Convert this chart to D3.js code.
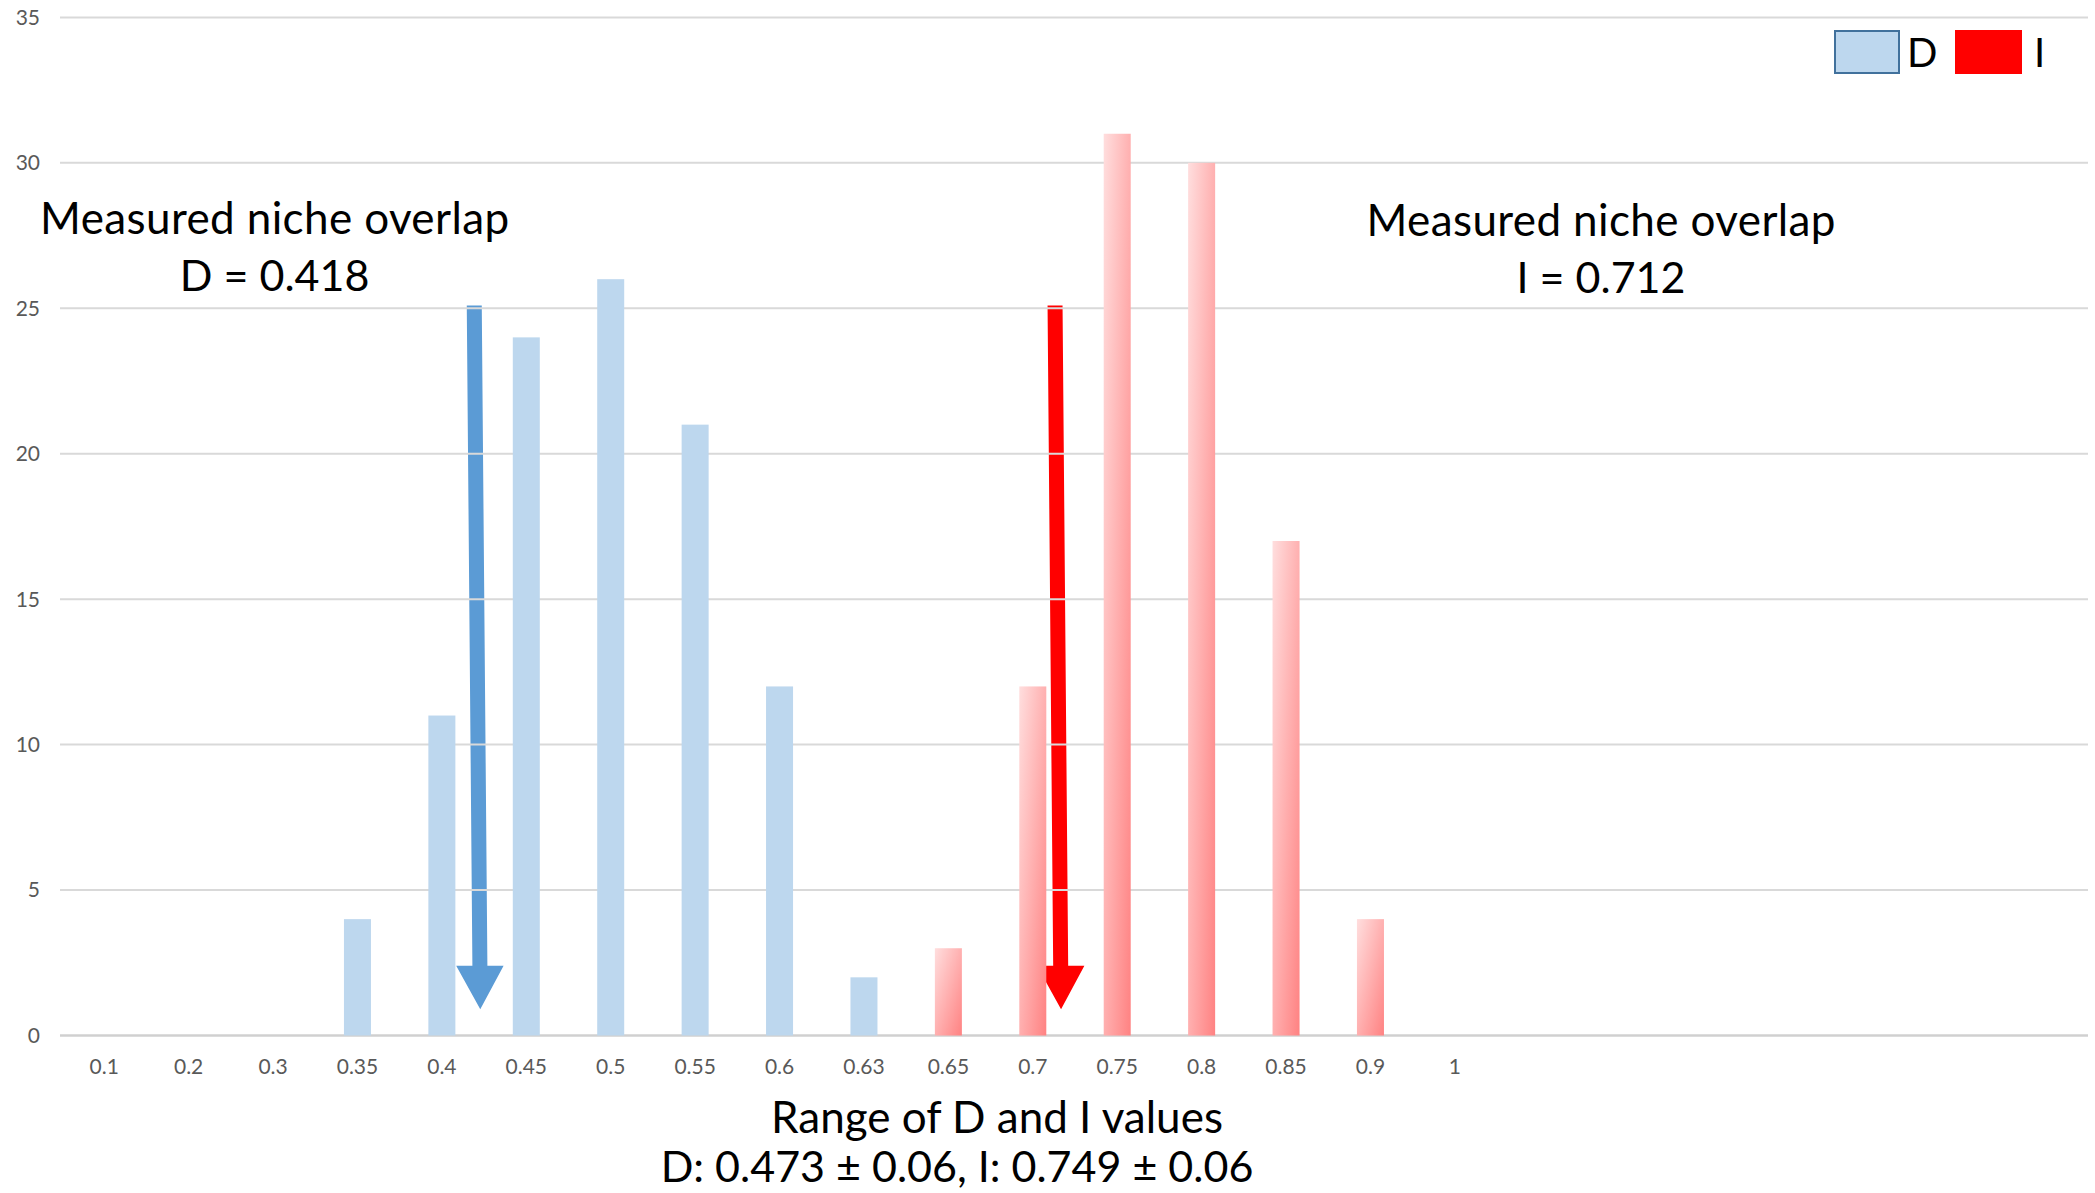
<!DOCTYPE html>
<html><head><meta charset="utf-8">
<script src="https://cdn.jsdelivr.net/npm/d3@7"></script>
<style>html,body{margin:0;padding:0;background:#fff;}svg{display:block;}</style>
</head><body>
<svg id="chart" width="2095" height="1193"></svg>
<script>
// ---- data ----
const categories = ["0.1","0.2","0.3","0.35","0.4","0.45","0.5","0.55","0.6","0.63","0.65","0.7","0.75","0.8","0.85","0.9","1","","","","","","",""];
const categoryKeys = categories.map((c,i)=> c === "" ? "blank"+i : c);
const dValues = [0,0,0,4,11,24,26,21,12,2,0,0,0,0,0,0,0,0,0,0,0,0,0,0];
const iValues = [0,0,0,0,0,0,0,0,0,0,3,12,31,30,17,4,0,0,0,0,0,0,0,0];
const yTicks = [0,5,10,15,20,25,30,35];
const measured = [{name:"D", value:0.418, label:"D = 0.418"},{name:"I", value:0.712, label:"I = 0.712"}];
const arrowTopValue = 25.1, arrowHeadBase = 2.4, arrowTip = 0.9;
const xTitle = "Range of D and I values";
const xSubtitle = "D: 0.473 \u00B1 0.06, I: 0.749 \u00B1 0.06";

(function(){
const svg = d3.select("#chart");
const pLeft = 62, pRight = 2088, pTop = 17.4, pBottom = 1035.5;
const x = d3.scaleBand().domain(categoryKeys).range([pLeft, pRight]).paddingInner(0).paddingOuter(0);
const y = d3.scaleLinear().domain([0,35]).range([pBottom, pTop]);
const font = "Lato, 'Open Sans', sans-serif";

const defs = svg.append("defs");
const g = defs.append("linearGradient").attr("id","redgrad")
  .attr("x1",0).attr("y1",0).attr("x2",1).attr("y2",1);
g.append("stop").attr("offset","0%").attr("stop-color","#ffdede");
g.append("stop").attr("offset","100%").attr("stop-color","#ff8282");

const numCats = categories.filter(c=>c!=="").map(Number);
function xOfValue(v){
  for(let i=0;i<numCats.length-1;i++){
    const a=numCats[i], b=numCats[i+1];
    if(v>=a && v<=b){
      const xa = x(categoryKeys[i])+x.bandwidth()/2, xb = x(categoryKeys[i+1])+x.bandwidth()/2;
      return xa + (v-a)/(b-a)*(xb-xa);
    }
  }
  return 0;
}

// arrows (beneath gridlines and bars)
const arrowColors = {D:"#5b9bd5", I:"#ff0000"};
measured.forEach(m=>{
  const xt = xOfValue(m.value) + 2, slant = 6;
  const yt = y(arrowTopValue), yb = y(arrowHeadBase), yp = y(arrowTip);
  const sw = 7.5, hw = 23.7;
  const xbase = xt + slant*(yb-yt)/(yp-yt);
  const pts = [[xt-sw,yt],[xt+sw,yt],[xbase+sw,yb],[xbase+hw,yb],[xt+slant,yp],[xbase-hw,yb],[xbase-sw,yb]];
  svg.append("polygon").attr("points", pts.map(p=>p.join(",")).join(" "))
    .attr("fill", arrowColors[m.name]);
});

// gridlines
svg.append("g").selectAll("line").data(yTicks.filter(t=>t>0)).join("line")
  .attr("x1",60).attr("x2",pRight).attr("y1",d=>y(d)).attr("y2",d=>y(d))
  .attr("stroke","#d9d9d9").attr("stroke-width",2);
svg.append("line").attr("x1",60).attr("x2",pRight).attr("y1",y(0)).attr("y2",y(0))
  .attr("stroke","#d0d0d0").attr("stroke-width",2.5);

// bars
const bw = x.bandwidth()*0.32;
svg.append("g").selectAll("rect").data(dValues.map((v,i)=>({v,k:categoryKeys[i]})).filter(d=>d.v>0)).join("rect")
  .attr("x",d=>x(d.k)+x.bandwidth()/2-bw/2).attr("width",bw)
  .attr("y",d=>y(d.v)).attr("height",d=>y(0)-y(d.v)).attr("fill","#bdd7ee");
svg.append("g").selectAll("rect").data(iValues.map((v,i)=>({v,k:categoryKeys[i]})).filter(d=>d.v>0)).join("rect")
  .attr("x",d=>x(d.k)+x.bandwidth()/2-bw/2).attr("width",bw)
  .attr("y",d=>y(d.v)).attr("height",d=>y(0)-y(d.v)).attr("fill","url(#redgrad)");

// y tick labels
svg.append("g").selectAll("text").data(yTicks).join("text")
  .attr("x",40).attr("y",d=>y(d)).attr("dy","0.35em").attr("text-anchor","end")
  .attr("font-family",font).attr("font-size",21).attr("fill","#595959").text(d=>d);

// x tick labels
svg.append("g").selectAll("text").data(categories.map((c,i)=>({c,k:categoryKeys[i]})).filter(d=>d.c!=="")).join("text")
  .attr("x",d=>x(d.k)+x.bandwidth()/2).attr("y",1074).attr("text-anchor","middle")
  .attr("font-family",font).attr("font-size",21).attr("fill","#595959").text(d=>d.c);

// annotations
const annPos = [{cx:274.6, y1:234, y2:290.5},{cx:1601, y1:236, y2:292.5}];
measured.forEach((m,i)=>{
  const p = annPos[i];
  svg.append("text").attr("x",p.cx).attr("y",p.y1).attr("text-anchor","middle")
    .attr("font-family",font).attr("font-size",44).attr("fill","#000")
    .attr("textLength",469).attr("lengthAdjust","spacing").text("Measured niche overlap");
  svg.append("text").attr("x",p.cx).attr("y",p.y2).attr("text-anchor","middle")
    .attr("font-family",font).attr("font-size",43).attr("fill","#000").text(m.label);
});

// axis titles
svg.append("text").attr("x",997).attr("y",1133).attr("text-anchor","middle")
  .attr("font-family",font).attr("font-size",44).attr("fill","#000").text(xTitle);
svg.append("text").attr("x",957).attr("y",1182).attr("text-anchor","middle")
  .attr("font-family",font).attr("font-size",43).attr("fill","#000").text(xSubtitle);

// legend
const leg = svg.append("g");
leg.append("rect").attr("x",1835).attr("y",31).attr("width",64).attr("height",42)
  .attr("fill","#bdd7ee").attr("stroke","#41719c").attr("stroke-width",2);
leg.append("text").attr("x",1907).attr("y",67).attr("font-family",font).attr("font-size",40).text("D");
leg.append("rect").attr("x",1955).attr("y",30).attr("width",67).attr("height",44).attr("fill","#ff0000");
leg.append("text").attr("x",2034).attr("y",67).attr("font-family",font).attr("font-size",40).text("I");
})();
</script>
</body></html>
